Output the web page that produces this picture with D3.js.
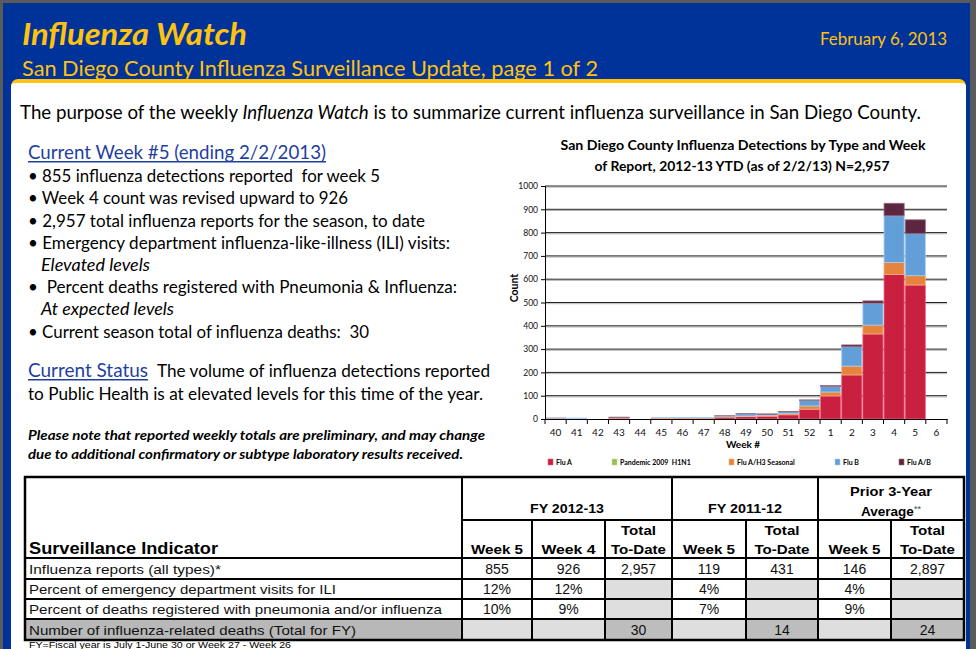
<!DOCTYPE html>
<html>
<head>
<meta charset="utf-8">
<script src="https://cdn.jsdelivr.net/npm/d3@7"></script>
<style>
  body { margin: 0; background: #5b5b5b; }
  svg { display: block; }
  text { white-space: pre; }
</style>
</head>
<body>
<div id="page"></div>
<script>
// chart data
const weeks = ["40","41","42","43","44","45","46","47","48","49","50","51","52","1","2","3","4","5","6"]
const fluA  = [3, 1, 0, 4, 0, 2, 3, 3, 8, 10, 12, 18, 42, 99, 189, 365, 620, 575, 0]
const h1n1  = [0, 0, 0, 0, 0, 0, 0, 0, 0, 0, 0, 0, 0, 0, 0, 0, 0, 0, 0]
const h3    = [1, 0, 0, 1, 0, 3, 2, 2, 2, 3, 4, 5, 14, 17, 38, 38, 52, 40, 0]
const fluB  = [1, 3, 0, 1, 0, 1, 2, 2, 3, 9, 3, 8, 24, 24, 83, 94, 200, 180, 0]
const fluAB = [0, 0, 0, 2, 0, 0, 0, 0, 1, 1, 3, 1, 2, 4, 8, 10, 54, 60, 0]
const seriesNames = ["Flu A", "Pandemic 2009  H1N1", "Flu A/H3 Seasonal", "Flu B", "Flu A/B"]
const yTicks = [0, 100, 200, 300, 400, 500, 600, 700, 800, 900, 1000]

// table data
const tableRows = [
  "Influenza reports (all types)*",
  "Percent of emergency department visits for ILI",
  "Percent of deaths registered with pneumonia and/or influenza",
  "Number of influenza-related deaths (Total for FY)"
]
const fy1213Week5 = ["855", "12%", "10%", ""]
const fy1213Week4 = ["926", "12%", "9%", ""]
const fy1213Total = ["2,957", "", "", "30"]
const fy1112Week5 = ["119", "4%", "7%", ""]
const fy1112Total = ["431", "", "", "14"]
const priorWeek5  = ["146", "4%", "9%", ""]
const priorTotal  = ["2,897", "", "", "24"]

const bullets = [
  "\u2022 855 influenza detections reported  for week 5",
  "\u2022 Week 4 count was revised upward to 926",
  "\u2022 2,957 total influenza reports for the season, to date",
  "\u2022 Emergency department influenza-like-illness (ILI) visits:",
  "Elevated levels",
  "\u2022  Percent deaths registered with Pneumonia & Influenza:",
  "At expected levels",
  "\u2022 Current season total of influenza deaths:  30"
]

const W = 976, H = 649
const sans = "Lato, 'Open Sans', sans-serif"
const narrow = "'Liberation Sans', Arial, sans-serif"
const blue = "#003399"
const gold = "#ffc20e"
const linkBlue = "#1f3f9f"

const svg = d3.select("#page").append("svg")
  .attr("width", W)
  .attr("height", H)
  .attr("viewBox", [0, 0, W, H])

// squeeze or stretch a text to the width seen in the picture
function fit(sel, w) {
  sel.attr("textLength", w).attr("lengthAdjust", "spacingAndGlyphs")
  return sel
}

function label(g, x, y, str, size, opts = {}) {
  const t = g.append("text")
    .attr("x", x)
    .attr("y", y)
    .attr("font-family", opts.family || sans)
    .attr("font-size", size)
    .attr("fill", opts.fill || "#000")
    .attr("font-weight", opts.weight || "normal")
    .attr("font-style", opts.style || "normal")
    .attr("text-anchor", opts.anchor || "start")
    .text(str)
  if (opts.w) fit(t, opts.w)
  return t
}

// ---- frame and header band
svg.append("rect").attr("width", W).attr("height", H).attr("fill", "#5b5b5b")
svg.append("rect").attr("x", 3).attr("y", 3).attr("width", 967).attr("height", H).attr("fill", blue)
svg.append("rect").attr("x", 11).attr("y", 79).attr("width", 955).attr("height", 30).attr("rx", 7).attr("fill", gold)
svg.append("rect").attr("x", 11).attr("y", 83).attr("width", 955).attr("height", H).attr("rx", 4).attr("fill", "#fff")

const head = svg.append("g")
label(head, 22, 45, "Influenza Watch", 30, {fill: gold, weight: "bold", style: "italic", w: 225})
label(head, 947, 45, "February 6, 2013", 17, {fill: gold, anchor: "end", w: 127})
label(head, 22, 76, "San Diego County Influenza Surveillance Update, page 1 of 2", 22, {fill: gold, w: 576})

// ---- intro and left column
const body = svg.append("g")
const intro = body.append("text")
  .attr("x", 20).attr("y", 119)
  .attr("font-family", sans).attr("font-size", 19.5)
intro.append("tspan").text("The purpose of the weekly ")
intro.append("tspan").attr("font-style", "italic").text("Influenza Watch")
intro.append("tspan").text(" is to summarize current influenza surveillance in San Diego County.")
fit(intro, 901)

label(body, 28, 159, "Current Week #5 (ending 2/2/2013)", 19, {fill: linkBlue, w: 298})
body.append("rect").attr("x", 28).attr("y", 161).attr("width", 298).attr("height", 1.5).attr("fill", linkBlue)

const bulletY = [182, 204, 227, 249, 271, 293, 315, 338]
const bulletX = [28, 28, 28, 28, 41, 28, 41, 28]
const bulletW = [352, 320, 397, 422, 109, 429, 133, 341]
bullets.forEach((b, i) => {
  const italic = !b.startsWith("\u2022")
  label(body, bulletX[i], bulletY[i], b, 17, {style: italic ? "italic" : "normal", w: bulletW[i]})
})

label(body, 28, 377, "Current Status", 19, {fill: linkBlue, w: 120})
body.append("rect").attr("x", 28).attr("y", 379).attr("width", 120).attr("height", 1.5).attr("fill", linkBlue)
label(body, 157, 377, "The volume of influenza detections reported", 17.5, {w: 333})
label(body, 28, 400, "to Public Health is at elevated levels for this time of the year.", 17.5, {w: 455})

label(body, 28, 440, "Please note that reported weekly totals are preliminary, and may change", 12.5,
  {weight: "bold", style: "italic", w: 457})
label(body, 28, 459, "due to additional confirmatory or subtype laboratory results received.", 12.5,
  {weight: "bold", style: "italic", w: 435})

// ---- stacked bar chart
const chart = svg.append("g")
label(chart, 743, 150, "San Diego County Influenza Detections by Type and Week", 13,
  {weight: "bold", anchor: "middle", w: 365})
label(chart, 742, 171, "of Report, 2012-13 YTD (as of 2/2/13) N=2,957", 13,
  {weight: "bold", anchor: "middle", w: 295})

const x = d3.scaleBand().domain(weeks).range([545, 947]).padding(0)
const y = d3.scaleLinear().domain([0, 1000]).range([419, 186])

const colors = ["#c9203f", "#9bbb59", "#e5843c", "#629fd9", "#5c2540"]
const strokes = ["#f06080", "#c4dc90", "#f8b080", "#a8d0f4", "#9a7080"]

const table = weeks.map((w, i) => ({
  week: w, a: fluA[i], p: h1n1[i], h3: h3[i], b: fluB[i], ab: fluAB[i]
}))
const keys = ["a", "p", "h3", "b", "ab"]
const stacked = d3.stack().keys(keys)(table)

// gridlines with a faint shadow
const grid = chart.append("g")
grid.selectAll("line.shadow")
  .data(yTicks.slice(1))
  .join("line")
  .attr("class", "shadow")
  .attr("x1", 545).attr("x2", 947)
  .attr("y1", d => y(d) + 1.2).attr("y2", d => y(d) + 1.2)
  .attr("stroke", "#b5b5b5").attr("stroke-width", 1)
grid.selectAll("line.major")
  .data(yTicks.slice(1))
  .join("line")
  .attr("class", "major")
  .attr("x1", 545).attr("x2", 947)
  .attr("y1", d => y(d)).attr("y2", d => y(d))
  .attr("stroke", "#222").attr("stroke-width", 1)

chart.append("g")
  .selectAll("g")
  .data(stacked)
  .join("g")
  .attr("fill", (d, i) => colors[i])
  .attr("stroke", (d, i) => strokes[i])
  .attr("stroke-width", 0.8)
  .selectAll("rect")
  .data(d => d.filter(v => v[1] - v[0] > 0))
  .join("rect")
  .attr("x", d => x(d.data.week) + 0.5)
  .attr("width", x.bandwidth() - 1)
  .attr("y", d => y(d[1]))
  .attr("height", d => y(d[0]) - y(d[1]))

// axes
const yAxis = chart.append("g")
  .attr("transform", "translate(545,0)")
  .call(d3.axisLeft(y).tickValues(yTicks).tickSize(4).tickFormat(d3.format("d")))
yAxis.select(".domain").attr("stroke", "#000")
yAxis.selectAll("text").attr("font-family", sans).attr("font-size", 8.5).attr("fill", "#111").attr("x", -7)

const xAxis = chart.append("g")
  .attr("transform", "translate(0,419)")
  .call(d3.axisBottom(x).tickSize(0).tickPadding(10))
xAxis.select(".domain").attr("stroke", "#000").attr("stroke-width", 1.2)
xAxis.selectAll("text").attr("font-family", sans).attr("font-size", 10).attr("fill", "#111")
chart.append("g")
  .selectAll("line")
  .data(weeks.concat(["end"]))
  .join("line")
  .attr("x1", (d, i) => 545 + i * x.step())
  .attr("x2", (d, i) => 545 + i * x.step())
  .attr("y1", 419).attr("y2", 424)
  .attr("stroke", "#000")

label(chart, 743, 448, "Week #", 10, {weight: "bold", anchor: "middle"})
label(chart, 0, 0, "Count", 10.5, {weight: "bold", anchor: "middle"})
  .attr("transform", "translate(518,288) rotate(-90)")

// legend
const legendX = [548, 612, 729, 835, 899]
const legend = chart.append("g")
seriesNames.forEach((s, i) => {
  legend.append("rect")
    .attr("x", legendX[i]).attr("y", 459)
    .attr("width", 5).attr("height", 6)
    .attr("fill", colors[i]).attr("stroke", strokes[i]).attr("stroke-width", 0.6)
  label(legend, legendX[i] + 8, 465, s, 7, {weight: "bold"})
})

// ---- surveillance table
const tbl = svg.append("g").attr("font-family", narrow)
const colX = [25, 462, 532, 605, 672, 746, 818, 891, 964]
const rowY = [477, 520, 558, 579, 599, 619, 640]

// cell shading
const valueCols = [fy1213Week5, fy1213Week4, fy1213Total, fy1112Week5, fy1112Total, priorWeek5, priorTotal]
tbl.append("rect")
  .attr("x", colX[0]).attr("y", rowY[5])
  .attr("width", colX[1] - colX[0]).attr("height", rowY[6] - rowY[5])
  .attr("fill", "#b8b8b8")
valueCols.forEach((col, c) => {
  col.forEach((v, r) => {
    const last = r === 3
    if (v === "" || last) {
      tbl.append("rect")
        .attr("x", colX[c + 1]).attr("y", rowY[r + 2])
        .attr("width", colX[c + 2] - colX[c + 1]).attr("height", rowY[r + 3] - rowY[r + 2])
        .attr("fill", last && v !== "" ? "#bdbdbd" : "#dedede")
    }
  })
})

// grid lines
const lineG = tbl.append("g").attr("stroke", "#000").attr("stroke-width", 2)
lineG.append("rect")
  .attr("x", colX[0]).attr("y", rowY[0])
  .attr("width", colX[8] - colX[0]).attr("height", rowY[6] - rowY[0])
  .attr("fill", "none").attr("stroke-width", 2.5)
lineG.append("line").attr("x1", colX[1]).attr("x2", colX[8]).attr("y1", rowY[1]).attr("y2", rowY[1])
rowY.slice(2, 6).forEach(ry => {
  lineG.append("line").attr("x1", colX[0]).attr("x2", colX[8]).attr("y1", ry).attr("y2", ry)
})
colX.slice(1, 8).forEach((cx, i) => {
  const fullHeight = [0, 3, 5].includes(i)
  lineG.append("line")
    .attr("x1", cx).attr("x2", cx)
    .attr("y1", fullHeight ? rowY[0] : rowY[1]).attr("y2", rowY[6])
})

// header texts
const hdr = {weight: "bold", family: narrow, anchor: "middle"}
label(tbl, (colX[1] + colX[4]) / 2, 513, "FY 2012-13", 13.5, {...hdr, w: 74})
label(tbl, (colX[4] + colX[6]) / 2, 513, "FY 2011-12", 13.5, {...hdr, w: 74})
label(tbl, (colX[6] + colX[8]) / 2, 496, "Prior 3-Year", 13.5, {...hdr, w: 82})
const avg = tbl.append("text")
  .attr("x", (colX[6] + colX[8]) / 2).attr("y", 516)
  .attr("text-anchor", "middle").attr("font-weight", "bold").attr("font-size", 13.5)
avg.append("tspan").text("Average")
avg.append("tspan").attr("font-size", 9).attr("dy", -4).attr("font-weight", "normal").attr("fill", "#444").text("**")

label(tbl, 29, 554, "Surveillance Indicator", 17, {weight: "bold", family: narrow, w: 189})
const subHeads = [["", "Week 5"], ["", "Week 4"], ["Total", "To-Date"], ["", "Week 5"], ["Total", "To-Date"], ["", "Week 5"], ["Total", "To-Date"]]
subHeads.forEach((s, i) => {
  const cx = (colX[i + 1] + colX[i + 2]) / 2
  if (s[0]) label(tbl, cx, 535, s[0], 13.5, {...hdr, w: 35})
  label(tbl, cx, 554, s[1], 13.5, {...hdr, w: s[1] === "Week 5" ? 52 : (s[1] === "Week 4" ? 54 : 55)})
})

// body rows
const rowLabelW = [192, 307, 413, 327]
tableRows.forEach((r, i) => {
  const base = rowY[i + 3] - 5
  label(tbl, 29, base, r, 13.5, {family: narrow, w: rowLabelW[i], fill: "#111"})
  valueCols.forEach((col, c) => {
    if (col[i] !== "") {
      label(tbl, (colX[c + 1] + colX[c + 2]) / 2, base, col[i], 14,
        {family: narrow, anchor: "middle", fill: "#111"})
    }
  })
})

label(svg, 29, 648, "FY=Fiscal year is July 1-June 30 or Week 27 - Week 26", 9.5, {family: narrow, w: 262})
</script>
</body>
</html>
